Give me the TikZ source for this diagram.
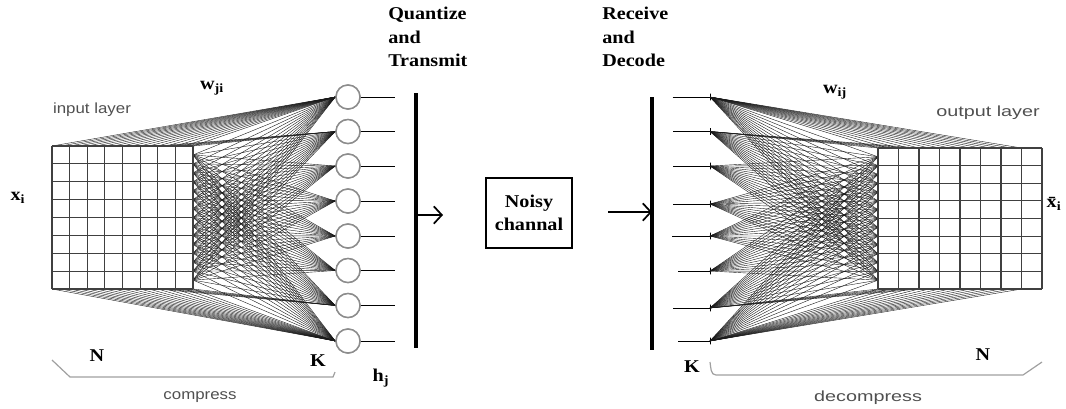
\documentclass[tikz,border=0pt]{standalone}
\usepackage{fontspec}
\setmainfont{Liberation Serif}
\newfontfamily\bsf[FakeStretch=1.12]{Liberation Serif}
\newfontfamily\lsf[FakeStretch=1.15]{Liberation Sans}
\newfontfamily\rsf[FakeStretch=1.35]{Liberation Sans}
\usetikzlibrary{arrows.meta}
\definecolor{lblgray}{HTML}{505050}
\definecolor{brgray}{HTML}{A0A0A0}
\begin{document}
\begin{tikzpicture}[x=0.75pt,y=-0.75pt,
  conn/.style={line width=0.3pt, draw=black!90},
  gridline/.style={line width=0.8pt, draw=black!75},
  hid/.style={circle, draw=black!45, line width=1.1pt, fill=white, minimum size=18pt, inner sep=0pt},
  tickmark/.style={draw, line width=0.6pt, minimum width=0pt, minimum height=5pt, inner sep=0pt},
  blbl/.style={font=\bsf\bfseries\fontsize{13.5}{17.5}\selectfont, inner sep=0pt},
  llbl/.style={font=\lsf\fontsize{11}{13}\selectfont, text=lblgray, inner sep=0pt},
  rlbl/.style={font=\rsf\fontsize{11}{13}\selectfont, text=lblgray, inner sep=0pt},
  bar/.style={line width=2.3pt},
  arr/.style={line width=1.3pt, -{Straight Barb[length=6pt,width=13pt,line width=1.3pt]}},
  outline/.style={line width=0.75pt},
  bracket/.style={line width=0.9pt, draw=brgray}
]
\useasboundingbox (0,0) rectangle (1066,408);

% ---------- left grid (input layer) ----------
\foreach \c in {0,...,16} {
  \coordinate (lt\c) at ({52+8.8125*\c},146);
  \coordinate (lb\c) at ({52+8.8125*\c},289);
  \coordinate (lr\c) at (193,{146+8.9375*\c});
}

% hidden nodes
\foreach \k/\y in {1/97,2/131.5,3/166,4/201,5/236,6/270.5,7/305.5,8/341} {
  \node[hid] (h\k) at (348,\y) {};
  \coordinate (o\k) at (395,\y);
}
\foreach \k in {1,...,8} \foreach \r in {1,...,15} \draw[conn] (h\k.west) -- (lr\r);
\foreach \c in {0,...,16} {
  \draw[conn] (h1.west) -- (lt\c);
  \draw[conn] (h8.west) -- (lb\c);
}
\foreach \c in {12,...,16} {
  \draw[conn] (h2.west) -- (lt\c);
  \draw[conn] (h7.west) -- (lb\c);
}
\fill[white] (52,146) rectangle (193,289);
\foreach \i in {0,...,8} {
  \draw[gridline] ({52+17.625*\i},146) -- ({52+17.625*\i},289);
  \draw[gridline] (52,{146+17.875*\i}) -- (193,{146+17.875*\i});
}
\foreach \k in {1,...,8} {
  \node[hid] at (h\k) {};
  \draw[outline] (h\k.east) -- (o\k);
}

% transmit bar and arrow
\coordinate (vt) at (416,93);
\coordinate (vb) at (416,348);
\draw[bar] (vt) -- (vb);
\coordinate (a1s) at (416,215);
\coordinate (a1e) at (443,215);
\draw[arr] (a1s) -- (a1e);

% noisy channel
\node[draw, line width=0.9pt, minimum width=64.5pt, minimum height=52.5pt, align=center,
      font=\bsf\bfseries\fontsize{13.5}{17.5}\selectfont] (noisy) at (529,213) {Noisy\\channal};

% receive bar and arrow
\coordinate (a2s) at (608,212);
\coordinate (a2e) at (652,212);
\draw[arr] (a2s) -- (a2e);
\coordinate (wt) at (652,97);
\coordinate (wb) at (652,350);
\draw[bar] (wt) -- (wb);

% right inputs
\foreach \k/\y/\s in {1/97/672.7,2/131.5/673.3,3/166/673.3,4/204/673.3,5/236/672,6/271/678.3,7/308/673.3,8/341/678.3} {
  \coordinate (ri\k) at (\s,\y);
  \node[tickmark] (t\k) at (710,\y) {};
  \draw[outline] (ri\k) -- (t\k.center);
}

% ---------- right grid (output layer) ----------
\foreach \c in {0,...,16} {
  \coordinate (rt\c) at ({878+10.25*\c},148);
  \coordinate (rb\c) at ({878+10.25*\c},289);
  \coordinate (rl\c) at (878,{148+8.8125*\c});
}
\foreach \k in {1,...,8} \foreach \r in {1,...,15} \draw[conn] (t\k.center) -- (rl\r);
\foreach \c in {0,...,14} {
  \draw[conn] (t1.center) -- (rt\c);
  \draw[conn] (t8.center) -- (rb\c);
}
\foreach \c in {0,...,4} {
  \draw[conn] (t2.center) -- (rt\c);
  \draw[conn] (t7.center) -- (rb\c);
}
\fill[white] (878,148) rectangle (1042,289);
\foreach \i in {0,...,8} {
  \draw[gridline] ({878+20.5*\i},148) -- ({878+20.5*\i},289);
  \draw[gridline] (878,{148+17.625*\i}) -- (1042,{148+17.625*\i});
}

% brackets
\coordinate (b1) at (52,360);
\coordinate (b2) at (70,377);
\coordinate (b3) at (333,377);
\coordinate (b4) at (335,372);
\draw[bracket] (b1) -- (b2) -- (b3) -- (b4);
\coordinate (c1) at (710,362);
\coordinate (c2) at (716,375);
\coordinate (c3) at (1023,375);
\coordinate (c4) at (1042,362);
\draw[bracket] (c1) to[out=-80,in=180] (c2) -- (c3) -- (c4);

% labels
\node[llbl] (inlab) at (92,110) {input layer};
\node[rlbl] (outlab) at (988,113) {output layer};
\node[llbl] (comp) at (200,397) {compress};
\node[rlbl] (decomp) at (868,398) {decompress};
\node[blbl] (wji) at (212,88) {w\textsubscript{ji}};
\node[blbl] (wij) at (835,92) {w\textsubscript{ij}};
\node[blbl] (xi) at (18,198) {x\textsubscript{i}};
\node[blbl] (xo) at (1054,204) {\=x\textsubscript{i}};
\node[blbl] (nl) at (97,356) {N};
\node[blbl] (kl) at (318,361) {K};
\node[blbl] (nr) at (983,355) {N};
\node[blbl] (kr) at (692,367) {K};
\node[blbl] (hj) at (381,378) {h\textsubscript{j}};
\node[blbl, align=left, anchor=north west] (qt) at (388,7) {Quantize\\and\\Transmit};
\node[blbl, align=left, anchor=north west] (rd) at (602,7) {Receive\\and\\Decode};
\end{tikzpicture}
\end{document}
